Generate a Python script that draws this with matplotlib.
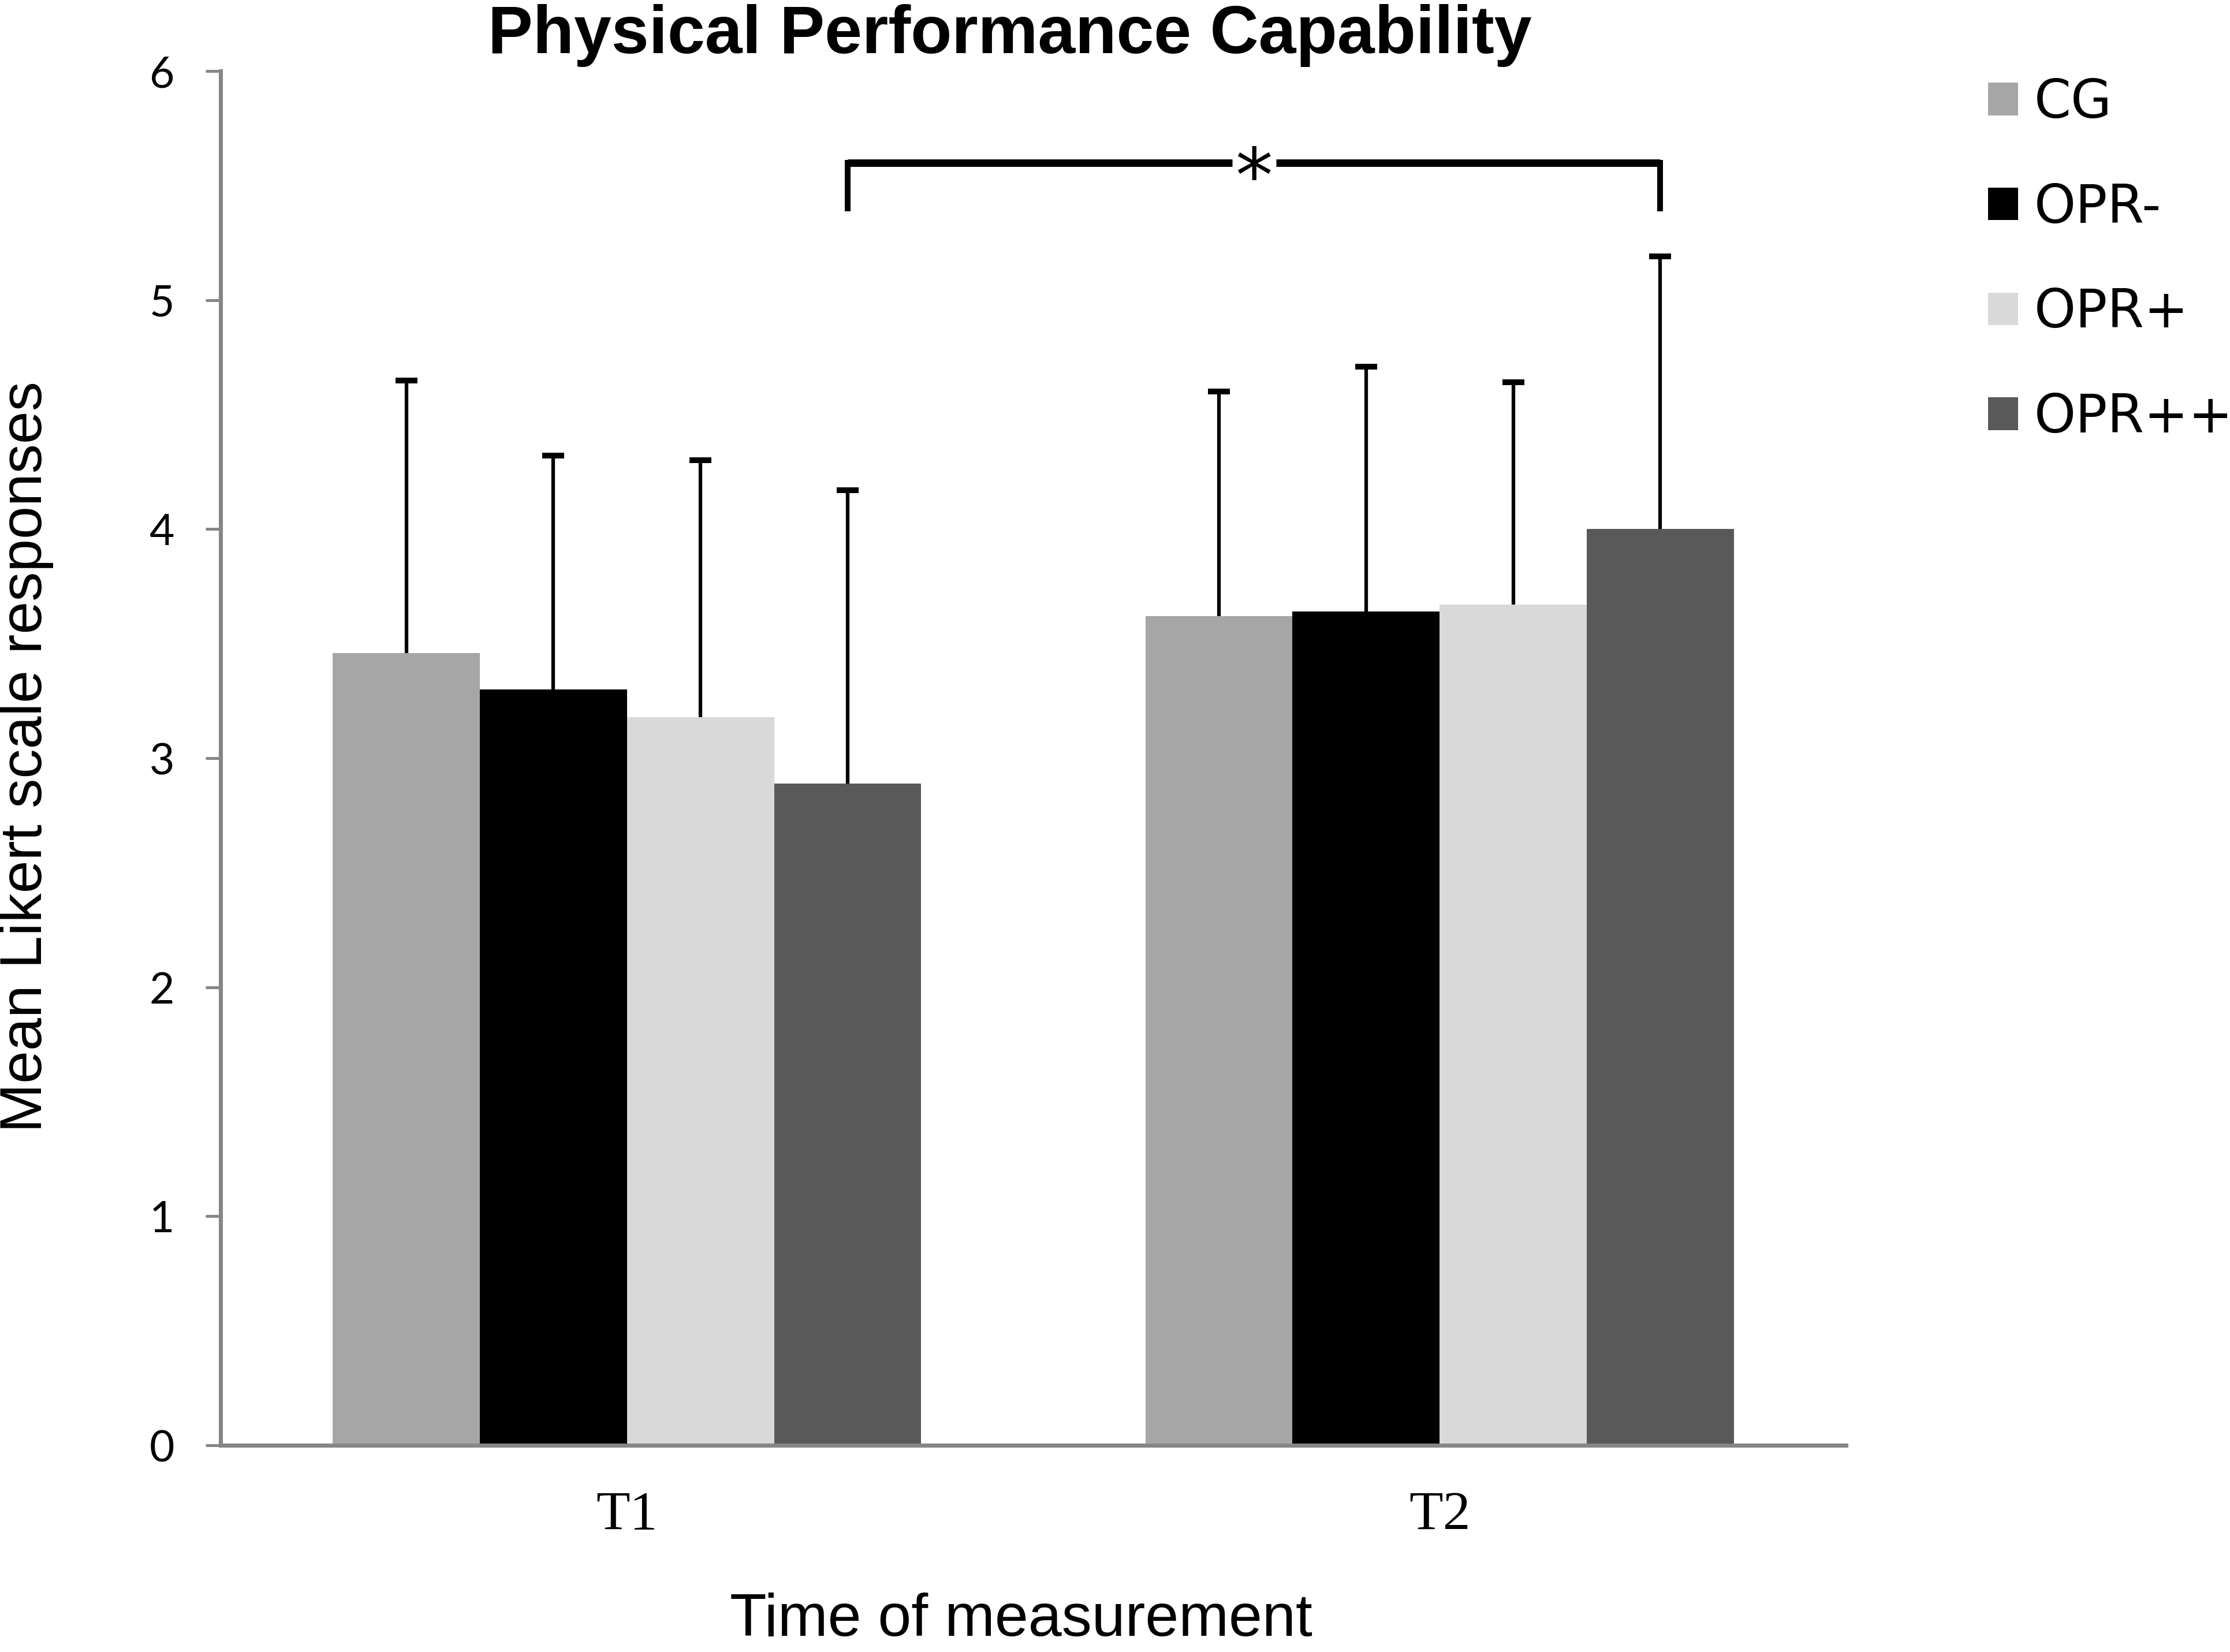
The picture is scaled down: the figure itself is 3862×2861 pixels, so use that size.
import numpy as np
import matplotlib
matplotlib.use("Agg")
import matplotlib.pyplot as plt

# data
times = ["T1", "T2"]
groups = ["CG", "OPR-", "OPR+", "OPR++"]
cg_mean = [3.46, 3.62]
opr_minus_mean = [3.30, 3.64]
opr_plus_mean = [3.18, 3.67]
opr_pp_mean = [2.89, 4.00]
# top of each error bar
cg_top = [4.65, 4.60]
opr_minus_top = [4.32, 4.71]
opr_plus_top = [4.30, 4.64]
opr_pp_top = [4.17, 5.19]
yticks = [0, 1, 2, 3, 4, 5, 6]

means = [cg_mean, opr_minus_mean, opr_plus_mean, opr_pp_mean]
tops = [cg_top, opr_minus_top, opr_plus_top, opr_pp_top]
colors = ["#a6a6a6", "#000000", "#d9d9d9", "#595959"]

plt.rcParams['font.family'] = ['Liberation Sans', 'DejaVu Sans']

fig = plt.figure(figsize=(3862 / 300, 2861 / 300), dpi=300)
ax = fig.add_axes([382 / 3862, 1 - 2503 / 2861, (3197 - 382) / 3862, (2503 - 123) / 2861])

x = np.arange(len(times))
width = 0.181
for i, (name, m, t, c) in enumerate(zip(groups, means, tops, colors)):
    pos = x + (i - 1.5) * width
    err = np.array(t) - np.array(m)
    ax.bar(pos, m, width, color=c, label=name, zorder=2)
    _, caps, _ = ax.errorbar(pos, m, yerr=[np.zeros_like(err), err], fmt='none',
                             ecolor='black', elinewidth=1.5, capsize=4.5,
                             capthick=2.4, zorder=3)
    # only the upper cap is drawn in the original
    for cl in caps:
        if np.allclose(cl.get_ydata(), m):
            cl.set_visible(False)

ax.set_xlim(-0.5, 1.5)
ax.set_ylim(0, 6)
ax.set_yticks(yticks)
ax.set_yticklabels([str(v) for v in yticks], fontfamily='Lato', fontsize=18)
ax.set_xticks(x)
ax.set_xticklabels(times, fontfamily='Liberation Serif', fontsize=23)
ax.tick_params(axis='x', length=0, pad=19)
ax.tick_params(axis='y', length=6.2, width=1.2, color='#868686', pad=13)

for s in ['top', 'right']:
    ax.spines[s].set_visible(False)
for s in ['left', 'bottom']:
    ax.spines[s].set_color('#868686')
    ax.spines[s].set_linewidth(1.7)

# significance bracket between OPR++ at T1 and T2
x_left = x[0] + 1.5 * width
x_right = x[1] + 1.5 * width
y_br = 5.60
y_low = 5.40
x_mid = (x_left + x_right) / 2
gap = 0.027
ax.plot([x_left, x_mid - gap], [y_br, y_br], color='black', lw=3.1, solid_capstyle='butt')
ax.plot([x_mid + gap, x_right], [y_br, y_br], color='black', lw=3.1, solid_capstyle='butt')
ax.plot([x_left, x_left], [y_br, y_low], color='black', lw=2.4)
ax.plot([x_right, x_right], [y_br, y_low], color='black', lw=2.4)
ax.text(x_mid, y_br - 0.08, '*', ha='center', va='center', fontsize=31,
        fontfamily='DejaVu Sans')

fig.text(1749 / 3862, 1 - 92 / 2861, 'Physical Performance Capability',
         ha='center', va='baseline', fontsize=28, fontweight='bold')
fig.text(46 / 3862, 0.542, 'Mean Likert scale responses', rotation=90,
         ha='center', va='center', fontsize=24.5)
fig.text(1768 / 3862, 6 / 2861, 'Time of measurement',
         ha='center', va='bottom', fontsize=25)

fig.legend(loc='upper left', bbox_to_anchor=(3443 / 3862, 1 - 133 / 2861),
           frameon=False, prop={'family': 'DejaVu Sans', 'size': 22},
           handlelength=0.57, handleheight=0.57, handletextpad=0.3,
           labelspacing=1.0, borderpad=0, borderaxespad=0)

fig.savefig('out.png', dpi=300)
